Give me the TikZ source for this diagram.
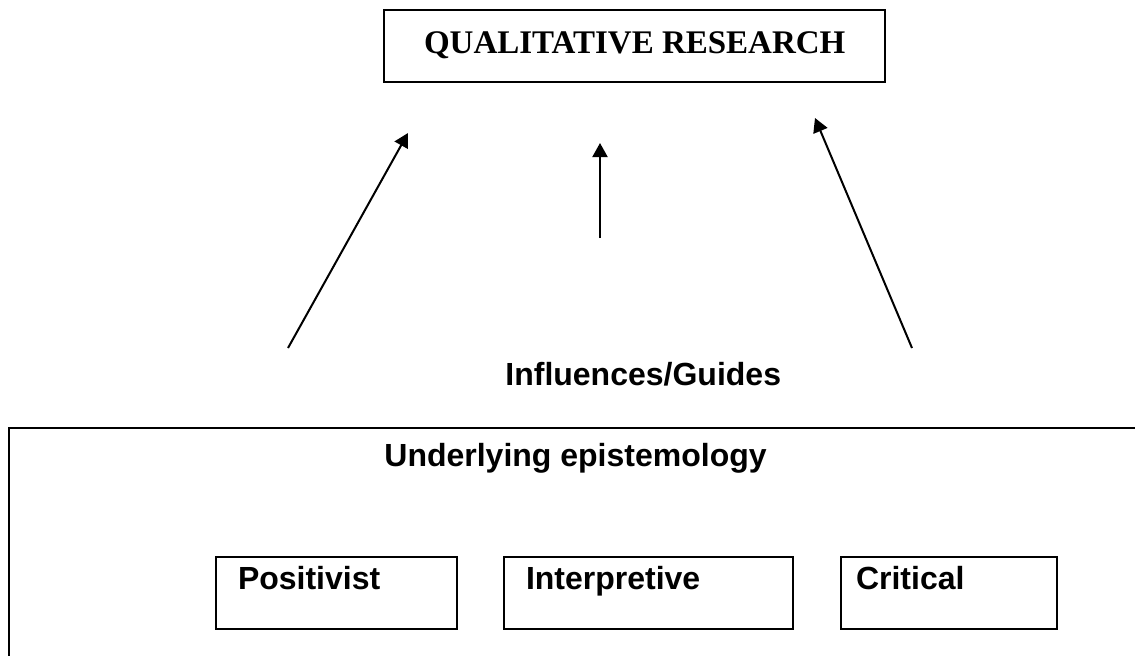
\documentclass[tikz,border=0pt]{standalone}
\usepackage{fontspec}
\setmainfont{Liberation Serif}
\setsansfont{Liberation Sans}
\usetikzlibrary{arrows.meta}

\tikzset{
  box/.style={draw, line width=1pt, inner ysep=0pt, anchor=north west},
  titlebox/.style={box, font=\fontsize{16.5}{20}\selectfont\bfseries, inner xsep=20pt, text height=21.5pt, text depth=14.5pt},
  paradigm/.style={box, font=\fontsize{16}{19}\selectfont\sffamily\bfseries, align=left, inner xsep=11pt, text height=16pt, text depth=20pt},
  heading/.style={font=\fontsize{16}{19}\selectfont\sffamily\bfseries, anchor=base west, inner sep=0pt},
  influence/.style={line width=1pt, -{Triangle[length=7pt,width=7.5pt]}}
}

\begin{document}
\begin{tikzpicture}[x=0.5pt,y=-0.5pt]
\useasboundingbox (0,0) rectangle (1135,655);
\clip (0,0) rectangle (1135,655);

% top box
\node[titlebox] (qr) at (383,9) {QUALITATIVE RESEARCH};

% the three arrows up to it
\coordinate (L0) at (288,348); \coordinate (L1) at (408,133);
\coordinate (M0) at (600,238); \coordinate (M1) at (600,143);
\coordinate (R0) at (912,348); \coordinate (R1) at (815,118);
\draw[influence] (L0) -- (L1);
\draw[influence] (M0) -- (M1);
\draw[influence] (R0) -- (R1);

\node[heading] (guides) at (505,385) {Influences/Guides};

% epistemology frame, runs off the right and bottom
\draw[line width=1pt] (9,428) rectangle (1150,680);
\node[heading] (epist) at (384,466) {Underlying epistemology};

\node[paradigm, text width=98.5pt] (pos) at (215,556) {Positivist};
\node[paradigm, text width=122.5pt] (int) at (503,556) {Interpretive};
\node[paradigm, text width=93pt, inner xsep=7.5pt] (crit) at (840,556) {Critical};
\end{tikzpicture}
\end{document}
